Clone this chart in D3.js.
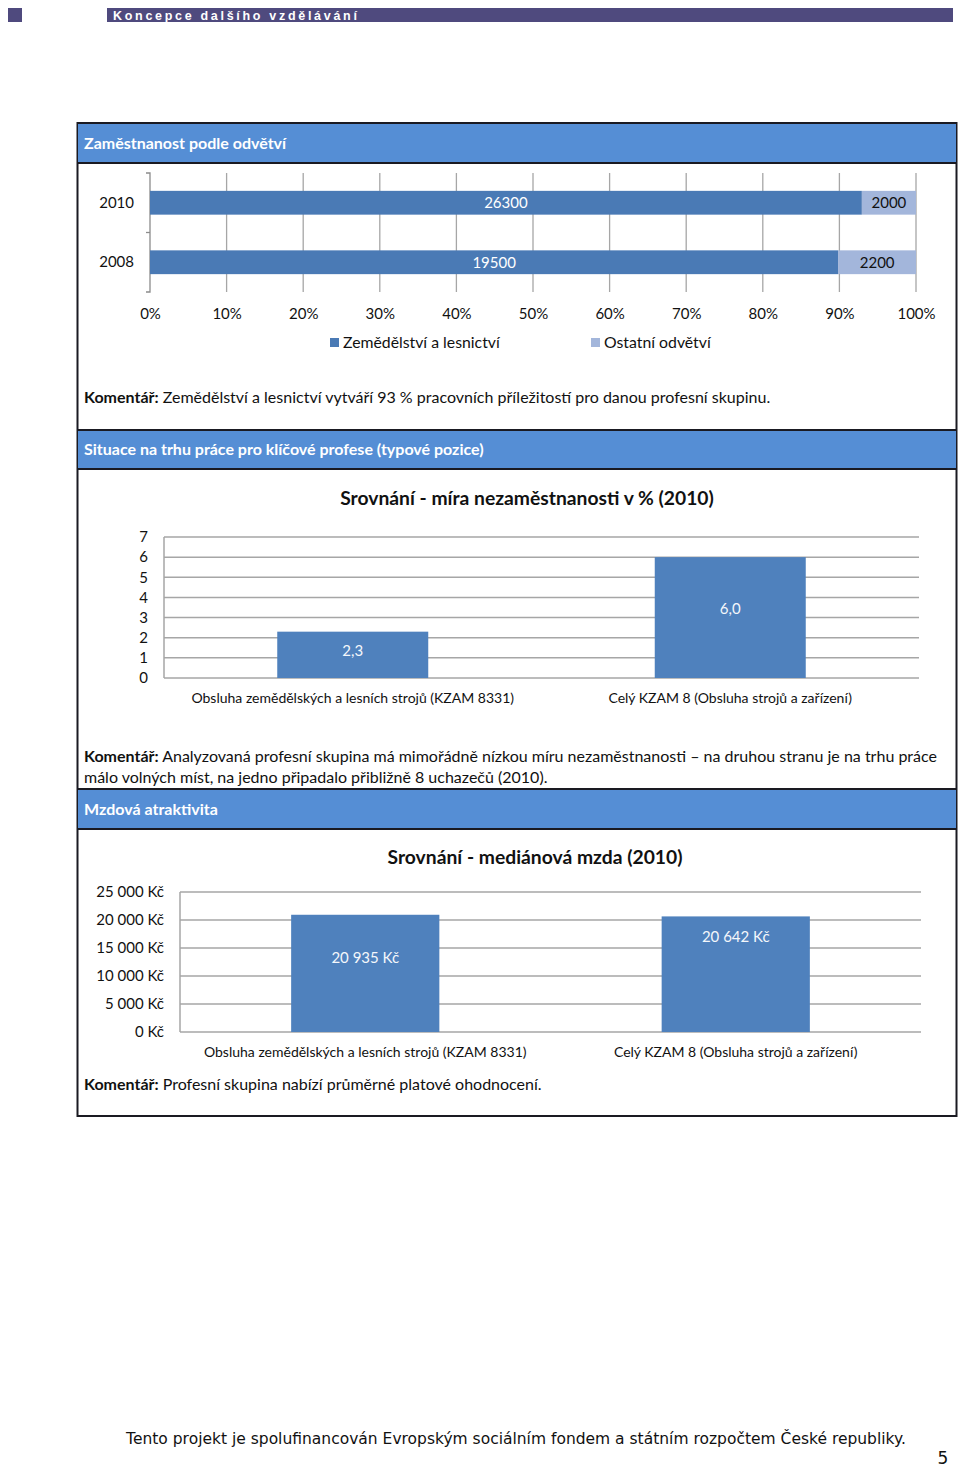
<!DOCTYPE html>
<html>
<head>
<meta charset="utf-8">
<script src="https://cdn.jsdelivr.net/npm/d3@7"></script>
<style>
  body { margin: 0; background: #fff; }
  svg { display: block; }
  text { font-family: Lato, "Open Sans", sans-serif; fill: #111; }
</style>
</head>
<body>
<div id="page"></div>
<script>
// data
var years = ["2010", "2008"];
var agriJobs = [26300, 19500];
var otherJobs = [2000, 2200];
var shareTicks = [0, 0.1, 0.2, 0.3, 0.4, 0.5, 0.6, 0.7, 0.8, 0.9, 1];
var seriesNames = ["Zemědělství a lesnictví", "Ostatní odvětví"];

var groups = ["Obsluha zemědělských a lesních strojů (KZAM 8331)", "Celý KZAM 8 (Obsluha strojů a zařízení)"];
var unemployment = [2.3, 6.0];
var unemploymentTicks = [0, 1, 2, 3, 4, 5, 6, 7];
var wages = [20935, 20642];
var wageTicks = [0, 5000, 10000, 15000, 20000, 25000];

var width = 960, height = 1469;
var dark = "#4a7ab5", barBlue = "#4f81bd", light = "#a3b6db", headBlue = "#558ed5";

var svg = d3.select("#page").append("svg")
    .attr("width", width)
    .attr("height", height);

// page header
svg.append("rect").attr("x", 8).attr("y", 8).attr("width", 14).attr("height", 14).attr("fill", "#4f4a7e");
svg.append("rect").attr("x", 107).attr("y", 8).attr("width", 846).attr("height", 14).attr("fill", "#4f4a7e");
svg.append("text")
    .attr("x", 113).attr("y", 19.5)
    .style("font-family", "'Liberation Sans', Arial, sans-serif")
    .style("font-weight", "bold")
    .style("font-size", "12.5px")
    .style("letter-spacing", "2.7px")
    .style("fill", "#fff")
    .text("Koncepce dalšího vzdělávání");

// outer box + section headers
svg.append("rect").attr("x", 77.5).attr("y", 123).attr("width", 879).attr("height", 993)
    .attr("fill", "none").attr("stroke", "#1a1a22").attr("stroke-width", 2);

function sectionHeader(y0, y1, label) {
    svg.append("rect").attr("x", 78).attr("y", y0).attr("width", 878).attr("height", y1 - y0)
        .attr("fill", headBlue);
    svg.append("line").attr("x1", 77).attr("x2", 957).attr("y1", y0).attr("y2", y0)
        .attr("stroke", "#1a1a22").attr("stroke-width", 2);
    svg.append("line").attr("x1", 77).attr("x2", 957).attr("y1", y1).attr("y2", y1)
        .attr("stroke", "#1a1a22").attr("stroke-width", 2);
    svg.append("text").attr("x", 84).attr("y", (y0 + y1) / 2 + 5.5)
        .style("font-size", "16px").style("font-weight", "bold").style("fill", "#fff")
        .text(label);
}
sectionHeader(123, 163, "Zaměstnanost podle odvětví");
sectionHeader(430, 469, "Situace na trhu práce pro klíčové profese (typové pozice)");
sectionHeader(789, 829, "Mzdová atraktivita");

function comment(y, lines) {
    lines.forEach(function(line, i) {
        var t = svg.append("text").attr("x", 84).attr("y", y + i * 21).style("font-size", "16px");
        if (i === 0) t.append("tspan").style("font-weight", "bold").text("Komentář:");
        t.append("tspan").text(i === 0 ? " " + line : line);
    });
}

// chart 1: 100% stacked bars
var x1 = d3.scaleLinear().domain([0, 1]).range([150, 916]);
var y1 = d3.scaleBand().domain(years).range([173, 292]).paddingInner(0.6).paddingOuter(0.3);

svg.append("g").selectAll("line").data(shareTicks.slice(1)).enter().append("line")
    .attr("x1", d => x1(d)).attr("x2", d => x1(d))
    .attr("y1", 173).attr("y2", 292)
    .attr("stroke", "#a6a6a6").attr("stroke-width", 1.3);

var yAxis1 = d3.axisLeft(y1).tickSize(0).tickPadding(16);
svg.append("g").attr("transform", "translate(150,0)").call(yAxis1)
    .call(g => g.select(".domain").attr("stroke", "#8c8c8c").attr("stroke-width", 1.3).attr("d", "M-4,173H0V292H-4"))
    .call(g => g.selectAll("text").style("font-size", "15px").attr("fill", "#111").style("font-family", "Lato, sans-serif"));
svg.append("line").attr("x1", 146).attr("x2", 150).attr("y1", 232.5).attr("y2", 232.5)
    .attr("stroke", "#8c8c8c").attr("stroke-width", 1.3);

var xAxis1 = d3.axisBottom(x1).tickValues(shareTicks).tickFormat(d3.format(".0%")).tickSize(0).tickPadding(16);
svg.append("g").attr("transform", "translate(0,292)").call(xAxis1)
    .call(g => g.select(".domain").remove())
    .call(g => g.selectAll("text").style("font-size", "15px").attr("fill", "#111").style("font-family", "Lato, sans-serif"));

var rows = years.map((y, i) => ({ year: y, agri: agriJobs[i], other: otherJobs[i], total: agriJobs[i] + otherJobs[i] }));
var rowG = svg.append("g").selectAll("g").data(rows).enter().append("g");
rowG.append("rect")
    .attr("x", x1(0)).attr("y", d => y1(d.year))
    .attr("width", d => x1(d.agri / d.total) - x1(0)).attr("height", y1.bandwidth())
    .attr("fill", dark);
rowG.append("rect")
    .attr("x", d => x1(d.agri / d.total)).attr("y", d => y1(d.year))
    .attr("width", d => x1(1) - x1(d.agri / d.total)).attr("height", y1.bandwidth())
    .attr("fill", light);
rowG.append("text")
    .attr("x", d => x1(d.agri / d.total / 2)).attr("y", d => y1(d.year) + y1.bandwidth() / 2 + 5.5)
    .attr("text-anchor", "middle").style("font-size", "15px").style("fill", "#fff")
    .text(d => d.agri);
rowG.append("text")
    .attr("x", d => x1((1 + d.agri / d.total) / 2)).attr("y", d => y1(d.year) + y1.bandwidth() / 2 + 5.5)
    .attr("text-anchor", "middle").style("font-size", "15px")
    .text(d => d.other);

var legend = svg.append("g").selectAll("g").data(seriesNames).enter().append("g")
    .attr("transform", (d, i) => "translate(" + [330, 591][i] + ",338)");
legend.append("rect").attr("width", 9).attr("height", 9).attr("fill", (d, i) => i ? light : dark);
legend.append("text").attr("x", 13).attr("y", 10).style("font-size", "15.8px").text(d => d);

comment(403, ["Zemědělství a lesnictví vytváří 93 % pracovních příležitostí pro danou profesní skupinu."]);

// vertical bar chart helper
function columnChart(opts) {
    var x = d3.scaleBand().domain(groups).range([opts.left, opts.right]).paddingInner(0.6).paddingOuter(0.3);
    var y = d3.scaleLinear().domain([0, d3.max(opts.ticks)]).range([opts.bottom, opts.top]);

    svg.append("text").attr("x", opts.titleX).attr("y", opts.titleY)
        .attr("text-anchor", "middle").style("font-size", "19.3px").style("font-weight", "bold")
        .text(opts.title);

    svg.append("g").selectAll("line").data(opts.ticks).enter().append("line")
        .attr("x1", opts.left).attr("x2", opts.right)
        .attr("y1", d => y(d)).attr("y2", d => y(d))
        .attr("stroke", "#a6a6a6").attr("stroke-width", 1.5);
    svg.append("line").attr("x1", opts.left).attr("x2", opts.left)
        .attr("y1", opts.top).attr("y2", opts.bottom)
        .attr("stroke", "#a6a6a6").attr("stroke-width", 1.5);

    svg.append("g").attr("transform", "translate(" + opts.left + ",0)")
        .call(d3.axisLeft(y).tickValues(opts.ticks).tickFormat(opts.tickFormat).tickSize(0).tickPadding(opts.tickPad))
        .call(g => g.select(".domain").remove())
        .call(g => g.selectAll("text").style("font-size", "15px").attr("fill", "#111").style("font-family", "Lato, sans-serif"));

    svg.append("g").selectAll("rect").data(opts.values).enter().append("rect")
        .attr("x", (d, i) => x(groups[i])).attr("width", x.bandwidth())
        .attr("y", d => y(d)).attr("height", d => y(0) - y(d))
        .attr("fill", barBlue);

    svg.append("g").selectAll("text").data(opts.values).enter().append("text")
        .attr("x", (d, i) => x(groups[i]) + x.bandwidth() / 2)
        .attr("y", (d, i) => (y(d) + y(0)) / 2 + 5 + opts.labelShift[i])
        .attr("text-anchor", "middle").style("font-size", "15px").style("fill", "#f4f7fb")
        .text(opts.labelFormat);

    svg.append("g").selectAll("text").data(groups).enter().append("text")
        .attr("x", d => x(d) + x.bandwidth() / 2).attr("y", opts.bottom + 25)
        .attr("text-anchor", "middle").style("font-size", "14px")
        .text(d => d);
}

var commaFmt = d3.formatLocale({ decimal: ",", thousands: " ", grouping: [3], currency: ["", " Kč"] });

columnChart({
    title: "Srovnání - míra nezaměstnanosti v % (2010)", titleX: 527, titleY: 505,
    left: 164, right: 919, top: 537, bottom: 678,
    ticks: unemploymentTicks, tickFormat: d3.format("d"), tickPad: 16,
    values: unemployment, labelFormat: commaFmt.format(".1f"), labelShift: [-4, -9]
});

comment(762, ["Analyzovaná profesní skupina má mimořádně nízkou míru nezaměstnanosti – na druhou stranu je na trhu práce",
              "málo volných míst, na jedno připadalo přibližně 8 uchazečů (2010)."]);

columnChart({
    title: "Srovnání - mediánová mzda (2010)", titleX: 535, titleY: 864,
    left: 180, right: 921, top: 892, bottom: 1032,
    ticks: wageTicks, tickFormat: commaFmt.format("$,"), tickPad: 16,
    values: wages, labelFormat: commaFmt.format("$,"), labelShift: [-15, -37]
});

comment(1090, ["Profesní skupina nabízí průměrné platové ohodnocení."]);

// footer
svg.append("text").attr("x", 516).attr("y", 1444).attr("text-anchor", "middle")
    .style("font-family", "'DejaVu Sans', Verdana, sans-serif").style("font-size", "15.5px")
    .text("Tento projekt je spolufinancován Evropským sociálním fondem a státním rozpočtem České republiky.");
svg.append("text").attr("x", 943).attr("y", 1464).attr("text-anchor", "middle")
    .style("font-family", "'DejaVu Sans', Verdana, sans-serif").style("font-size", "17px")
    .text("5");
</script>
</body>
</html>
